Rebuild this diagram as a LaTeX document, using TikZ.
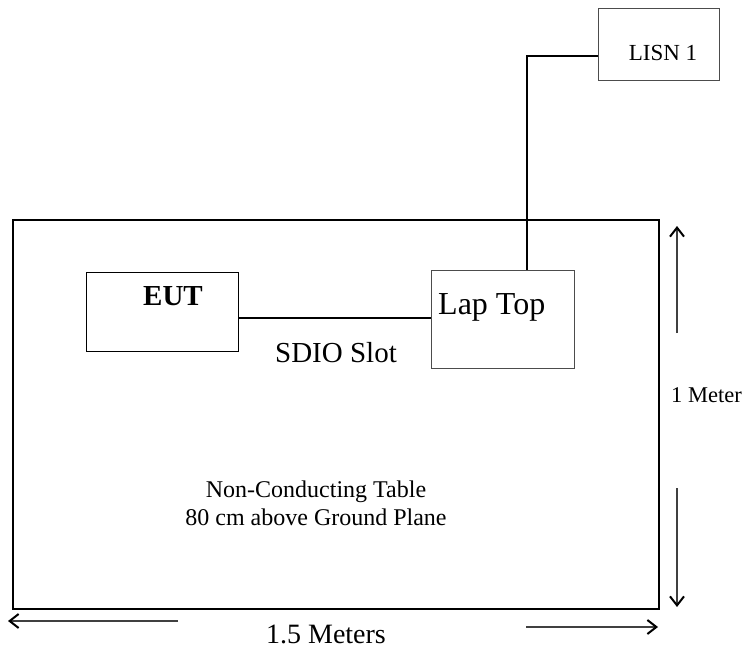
\documentclass[tikz,border=0pt]{standalone}
\usepackage{fontspec}
\setmainfont{Liberation Serif}
\usetikzlibrary{arrows.meta}
\begin{document}
\begin{tikzpicture}[x=1pt,y=-1pt,
  box/.style={draw, line width=1.1pt, inner sep=0pt, anchor=north west},
  wire/.style={line width=1.8pt},
  dim/.style={line width=1.1pt, draw=black!75, -{Straight Barb[length=9pt,width=14pt,line width=2pt,color=black]}},
  lbl/.style={inner sep=0pt, font=\fontsize{24pt}{28pt}\selectfont}]
\useasboundingbox (0,0) rectangle (750,650);
\node[box, line width=2.4pt, minimum width=646pt, minimum height=389pt] (table) at (12,219) {};
\node[box, draw=black!70, minimum width=121pt, minimum height=72pt] (lisn) at (598,8) {};
\node[box, draw=black!70, minimum width=143pt, minimum height=98pt] (lap) at (431,270) {};
\node[box, minimum width=152pt, minimum height=79pt] (eut) at (86,272) {};
\node[lbl, font=\fontsize{23pt}{26pt}\selectfont, anchor=base] (lisnt) at (663,61) {LISN 1};
\node[lbl, font=\fontsize{32pt}{36pt}\selectfont, anchor=base west] (lapt) at (438,314) {Lap Top};
\node[lbl, font=\fontsize{29pt}{32pt}\selectfont\bfseries, anchor=base] (eutt) at (173,305) {EUT};
\node[lbl, font=\fontsize{29pt}{32pt}\selectfont, anchor=base] (sdio) at (336,362) {SDIO Slot};
\node[lbl, align=center, anchor=center] (tabt) at (316,503) {Non-Conducting Table\\80 cm above Ground Plane};
\node[lbl, font=\fontsize{28pt}{32pt}\selectfont, anchor=base] (len) at (326,643) {1.5 Meters};
\node[lbl, font=\fontsize{22.5pt}{26pt}\selectfont, anchor=base west] (wid) at (671,402) {1 Meter};
\coordinate (bend) at (527,56);
\draw[wire] (eut.east |- 0,318) -- (lap.west |- 0,318);
\draw[wire] (lisn.west |- bend) -- (bend) -- (bend |- lap.north);
\coordinate (ua) at (677,333); \coordinate (ub) at (677,226);
\coordinate (da) at (677,488); \coordinate (db) at (677,607);
\coordinate (la) at (178,621); \coordinate (lb) at (8,621);
\coordinate (ra) at (526,627); \coordinate (rb) at (658,627);
\draw[dim] (ua) -- (ub);
\draw[dim] (da) -- (db);
\draw[dim] (la) -- (lb);
\draw[dim] (ra) -- (rb);
\end{tikzpicture}
\end{document}
